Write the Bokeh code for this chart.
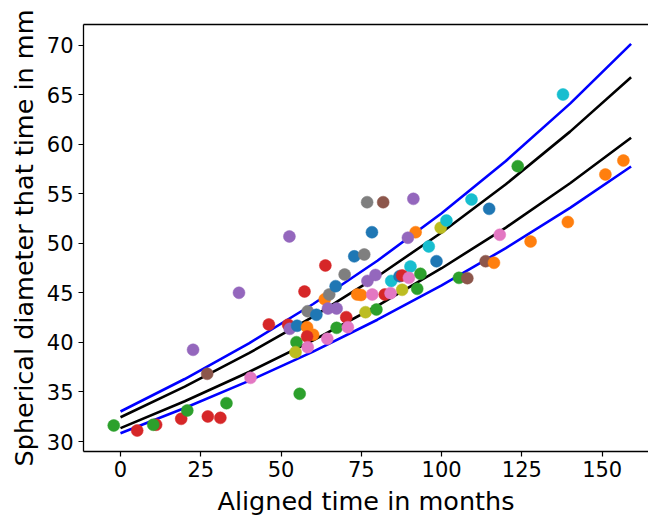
from bokeh.plotting import figure
from bokeh.models import FixedTicker, Range1d, LinearAxis
from bokeh.embed import file_html
from bokeh.resources import INLINE

# ---- data ----
months = [-2.1, 5.2, 11.1, 10.2, 18.9, 20.8, 27.2, 31.1, 33.0, 27.0,
          22.6, 40.5, 36.9, 55.8, 46.2, 52.6, 52.2, 52.7, 55.0, 54.8,
          54.5, 57.3, 58.1, 60.0, 58.1, 58.3, 58.3, 61.0, 63.8, 63.6,
          65.0, 67.0, 69.8, 64.6, 67.3, 70.3, 67.3, 70.8, 64.4, 72.8,
          75.9, 78.3, 76.8, 81.8, 91.2, 109.3, 91.9, 89.5, 99.7, 101.5,
          96.0, 98.4, 76.9, 79.4, 84.3, 90.3, 86.9, 87.7, 89.8, 93.4,
          92.4, 87.7, 73.7, 74.9, 78.4, 82.3, 84.1, 105.4, 108.0, 118.1,
          127.7, 139.3, 113.7, 116.3, 76.3, 79.7, 137.8, 123.7, 151.0, 156.6,
          114.8]
diameters = [31.62, 31.11, 31.69, 31.69, 32.29, 33.13, 32.53, 32.39, 33.87, 36.84,
             39.26, 36.43, 45.02, 34.82, 41.82, 50.71, 41.79, 41.38, 41.69, 40.03,
             39.02, 45.15, 41.55, 40.78, 40.61, 39.53, 43.16, 42.80, 47.78, 44.37,
             44.85, 45.69, 46.87, 43.43, 43.43, 42.56, 41.48, 41.55, 40.37, 48.70,
             48.89, 51.14, 54.17, 54.17, 54.51, 54.44, 51.14, 50.58, 51.59, 52.32,
             49.70, 48.21, 46.22, 46.82, 46.22, 47.68, 46.70, 46.77, 46.53, 46.94,
             45.42, 45.32, 44.85, 44.80, 44.85, 44.85, 44.98, 46.53, 46.50, 50.88,
             50.20, 52.17, 48.21, 48.05, 43.06, 43.33, 65.05, 57.81, 56.97, 58.38,
             53.50]
# series index of each point (matplotlib tab10 colour cycle)
groups = [2, 3, 3, 2, 3, 2, 3, 3, 2, 5,
          4, 6, 4, 2, 3, 4, 3, 4, 0, 2,
          8, 3, 1, 1, 3, 6, 7, 0, 3, 1,
          7, 0, 7, 4, 4, 3, 2, 6, 6, 0,
          7, 0, 7, 5, 4, 9, 1, 4, 8, 9,
          9, 0, 4, 4, 9, 9, 0, 3, 6, 2,
          2, 8, 1, 1, 6, 3, 6, 2, 5, 6,
          1, 1, 5, 1, 8, 2, 9, 2, 1, 1,
          0]

curve_t = [0, 20, 40, 60, 80, 100, 120, 140, 159]
upper_outer = [33.03, 36.31, 39.92, 43.89, 48.26, 53.06, 58.33, 64.13, 70.17]
upper_inner = [32.45, 35.54, 38.92, 42.62, 46.67, 51.11, 55.98, 61.30, 66.80]
lower_inner = [31.35, 34.06, 37.02, 40.22, 43.71, 47.50, 51.61, 56.08, 60.68]
lower_outer = [30.84, 33.38, 36.12, 39.08, 42.30, 45.77, 49.53, 53.60, 57.78]

x_ticks = [0, 25, 50, 75, 100, 125, 150]
y_ticks = [30, 35, 40, 45, 50, 55, 60, 65, 70]

palette = ["#1f77b4", "#ff7f0e", "#2ca02c", "#d62728", "#9467bd",
           "#8c564b", "#e377c2", "#7f7f7f", "#bcbd22", "#17becf"]
point_colors = [palette[g] for g in groups]

p = figure(width=648, height=519, output_backend="svg", toolbar_location=None,
           x_range=Range1d(-11.52, 164.42), y_range=Range1d(28.99, 72.12),
           min_border_left=83, min_border_right=0, min_border_top=24,
           min_border_bottom=68)
p.background_fill_color = "white"
p.border_fill_color = "white"
p.outline_line_color = None
p.xgrid.visible = False
p.ygrid.visible = False

bottom = p.below[0]
left = p.left[0]

# top spine (right spine is cut off in the reference)
top = LinearAxis(ticker=FixedTicker(ticks=[]), major_label_text_font_size="0px",
                 major_tick_line_color=None, minor_tick_line_color=None,
                 axis_line_color="black", axis_line_width=1.3,
                 major_label_standoff=0)
p.add_layout(top, "above")

for ys, col in [(upper_outer, "#0000ff"), (upper_inner, "black"),
                (lower_inner, "black"), (lower_outer, "#0000ff")]:
    p.line(curve_t, ys, line_color=col, line_width=2.6)

p.scatter(months, diameters, size=12, fill_color=point_colors,
          line_color=point_colors, line_width=0.5)

for ax in (bottom, left):
    ax.axis_line_color = "black"
    ax.axis_line_width = 1.3
    ax.major_tick_out = 5
    ax.major_tick_in = 0
    ax.major_tick_line_width = 1.2
    ax.minor_tick_line_color = None
    ax.major_label_text_font = "DejaVu Sans"
    ax.major_label_text_font_size = "21px"
    ax.major_label_text_color = "black"
    ax.axis_label_text_font = "DejaVu Sans"
    ax.axis_label_text_font_size = "25.5px"
    ax.axis_label_text_font_style = "normal"
    ax.axis_label_text_color = "black"

bottom.ticker = FixedTicker(ticks=x_ticks)
left.ticker = FixedTicker(ticks=y_ticks)
bottom.axis_label = "Aligned time in months"
left.axis_label = "Spherical diameter that time in mm"
bottom.major_label_standoff = 4
bottom.axis_label_standoff = 6
left.major_label_standoff = 5
left.axis_label_standoff = 5

open("out.html", "w").write(file_html(p, INLINE))
